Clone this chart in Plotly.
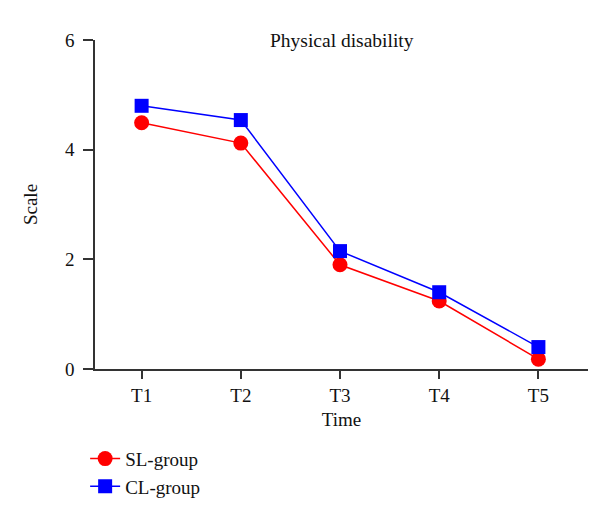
import plotly.graph_objects as go

categories = ["T1", "T2", "T3", "T4", "T5"]
sl_values = [4.49, 4.12, 1.90, 1.24, 0.18]
cl_values = [4.80, 4.54, 2.15, 1.40, 0.40]
y_ticks = [0, 2, 4, 6]

FONT = "Liberation Serif"

fig = go.Figure()
fig.add_trace(go.Scatter(
    x=categories, y=sl_values, name="SL-group", mode="lines+markers",
    line=dict(color="#ff0000", width=1.5),
    marker=dict(symbol="circle", size=15, color="#ff0000"),
))
fig.add_trace(go.Scatter(
    x=categories, y=cl_values, name="CL-group", mode="lines+markers",
    line=dict(color="#0000ff", width=1.5),
    marker=dict(symbol="square", size=14, color="#0000ff"),
))

fig.update_layout(
    width=600, height=514,
    margin=dict(l=87, r=20, t=32, b=153),
    paper_bgcolor="white", plot_bgcolor="white",
    font=dict(family=FONT, size=19, color="#111111"),
    showlegend=True,
    legend=dict(x=-0.02, y=-0.215, xanchor="left", yanchor="top",
                font=dict(family=FONT, size=19, color="#111111"),
                itemwidth=30, tracegroupgap=0, bgcolor="rgba(0,0,0,0)"),
    annotations=[dict(text="Physical disability", x=0.5, y=1.0, xref="paper", yref="paper",
                      xanchor="center", yanchor="middle", showarrow=False,
                      font=dict(family=FONT, size=19.5, color="#111111"))],
)
fig.update_xaxes(
    type="category", range=[-0.47, 4.5],
    showline=True, linecolor="#333333", linewidth=1.5,
    ticks="outside", ticklen=8, tickwidth=1.5, tickcolor="#333333",
    showgrid=False, zeroline=False,
    title=dict(text="Time", standoff=8, font=dict(family=FONT, size=19)),
    tickfont=dict(family=FONT, size=19),
)
fig.update_yaxes(
    range=[0, 6], tickvals=y_ticks,
    showline=True, linecolor="#333333", linewidth=1.5,
    ticks="outside", ticklen=10, tickwidth=1.5, tickcolor="#333333",
    ticklabelstandoff=5,
    showgrid=False, zeroline=False,
    title=dict(text="Scale", standoff=22, font=dict(family=FONT, size=19)),
    tickfont=dict(family=FONT, size=19),
)

fig.write_html("out.html")
